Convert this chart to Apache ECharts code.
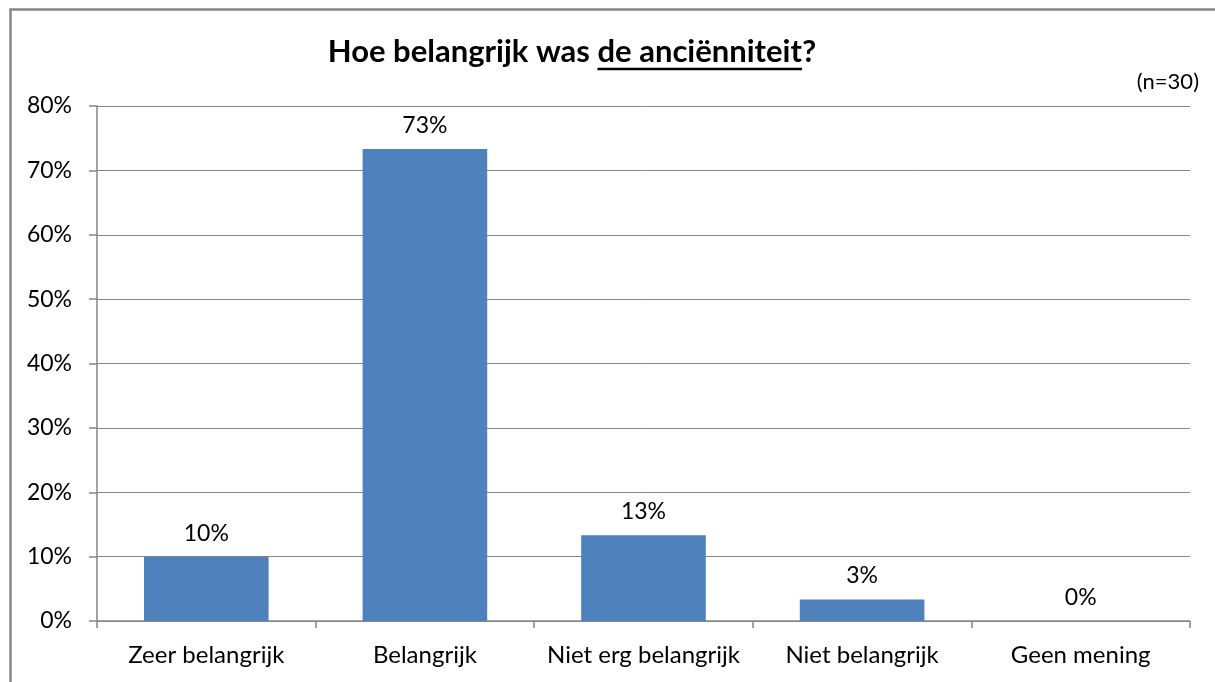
<!DOCTYPE html>
<html><head><meta charset="utf-8">
<script src="https://cdn.jsdelivr.net/npm/echarts@6/dist/echarts.min.js"></script>
<style>html,body{margin:0;padding:0;background:#fff}#c{width:1215px;height:682px}</style>
</head><body><div id="c"></div>
<script>
const categories = ["Zeer belangrijk", "Belangrijk", "Niet erg belangrijk", "Niet belangrijk", "Geen mening"];
const values = [10, 73.33, 13.33, 3.33, 0];
const yTicks = [0, 10, 20, 30, 40, 50, 60, 70, 80];
const titlePre = "Hoe belangrijk was ";
const titleUnder = "de anciënniteit";
const titlePost = "?";
const note = "(n=30)";

const FONT = "Lato, 'Open Sans', sans-serif";
const titleFont = "bold 31px " + FONT;
const cv = document.createElement('canvas').getContext('2d');
cv.font = titleFont;
const wPre = cv.measureText(titlePre).width;
const wU = cv.measureText(titleUnder).width;
const wPost = cv.measureText(titlePost).width;
const total = wPre + wU + wPost;
const cx = 572;
const startX = cx - total / 2;

const chart = echarts.init(document.getElementById('c'));
chart.setOption({
  animation: false,
  backgroundColor: '#fff',
  grid: { left: 97, right: 25, top: 106, bottom: 61 },
  xAxis: {
    type: 'category', data: categories,
    axisLine: { lineStyle: { color: '#868686', width: 1.5 } },
    axisTick: { show: true, length: 7, lineStyle: { color: '#868686', width: 1.5 } },
    axisLabel: { color: '#000', fontFamily: FONT, fontSize: 24, margin: 22, interval: 0 }
  },
  yAxis: {
    type: 'value', min: 0, max: 80, interval: 10,
    axisLine: { show: true, lineStyle: { color: '#868686', width: 1.5 } },
    axisTick: { show: true, length: 8, lineStyle: { color: '#868686', width: 1.5 } },
    splitLine: { lineStyle: { color: '#868686', width: 1 } },
    axisLabel: { color: '#000', fontFamily: FONT, fontSize: 23, margin: 25,
      formatter: v => yTicks.includes(v) ? v + '%' : '' }
  },
  series: [{
    type: 'bar', data: values, barCategoryGap: '43%',
    itemStyle: { color: '#4F81BD' },
    label: { show: true, position: 'top', distance: 12, color: '#000', fontFamily: FONT, fontSize: 23,
      formatter: p => Math.round(p.value) + '%' }
  }],
  graphic: [
    { type: 'rect', left: 8, top: 7, shape: { width: 1220, height: 700 }, style: { fill: 'none', stroke: '#868686', lineWidth: 2.5 }, silent: true },
    { type: 'text', x: startX, y: 52, style: { text: titlePre + titleUnder + titlePost, font: titleFont, fill: '#000', textVerticalAlign: 'middle', textAlign: 'left' } },
    { type: 'line', shape: { x1: startX + wPre, y1: 69, x2: startX + wPre + wU, y2: 69 }, style: { stroke: '#000', lineWidth: 2.5 } },
    { type: 'text', x: 1199, y: 82, style: { text: note, font: "22px " + FONT, fill: '#000', textAlign: 'right', textVerticalAlign: 'middle' } }
  ]
});
</script></body></html>
